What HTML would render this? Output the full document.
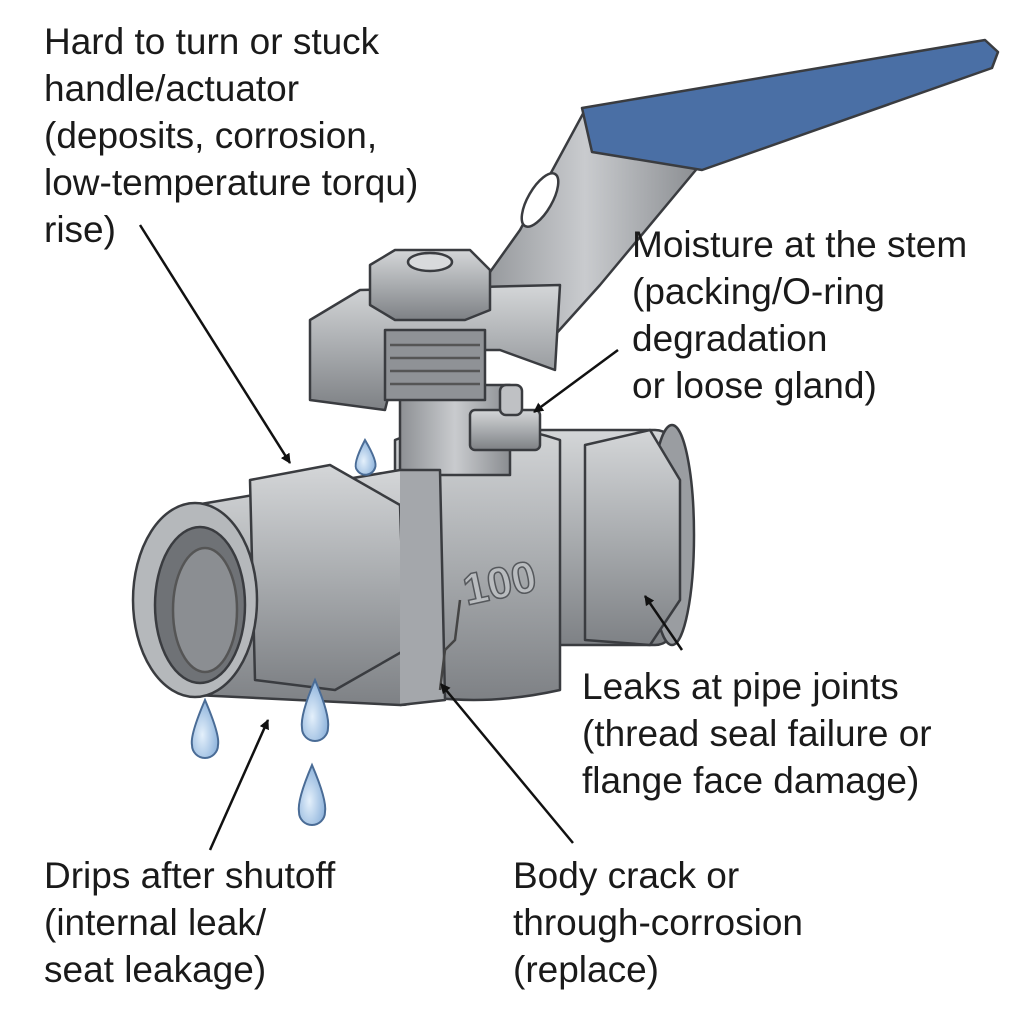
<!DOCTYPE html>
<html><head><meta charset="utf-8"><style>
html,body{margin:0;padding:0;background:#fff;width:1024px;height:1024px;overflow:hidden}
.t{position:absolute;font-family:"Liberation Sans","DejaVu Sans",sans-serif;font-size:37px;line-height:47px;color:#1a1a1a;white-space:nowrap}
</style></head><body>
<svg width="1024" height="1024" style="position:absolute;left:0;top:0">
<defs>
<linearGradient id="m" x1="0" y1="0" x2="0" y2="1"><stop offset="0" stop-color="#d4d6d8"/><stop offset=".5" stop-color="#a9acaf"/><stop offset="1" stop-color="#7e8185"/></linearGradient>
<linearGradient id="mh" x1="0" y1="0" x2="1" y2="0"><stop offset="0" stop-color="#8d9094"/><stop offset=".5" stop-color="#c9cbce"/><stop offset="1" stop-color="#8a8d91"/></linearGradient>
<marker id="a" markerWidth="10" markerHeight="10" refX="9" refY="5" orient="auto" markerUnits="userSpaceOnUse" viewBox="0 0 10 10"><path d="M0,0L10,5L0,10z" fill="#111"/></marker>
<radialGradient id="d" cx=".4" cy=".6" r=".6"><stop offset="0" stop-color="#e4f0fb"/><stop offset="1" stop-color="#8fb4dc"/></radialGradient>
</defs>
<g stroke="#3a3c40" stroke-width="2.5" stroke-linejoin="round">
<!-- lever -->
<polygon points="585,110 700,165 600,285 555,335 470,300 520,230" fill="url(#mh)"/>
<ellipse cx="540" cy="200" rx="12" ry="30" transform="rotate(30 540 200)" fill="#fff"/>
<polygon points="582,108 985,40 998,52 992,68 702,170 592,152" fill="#4a6fa5"/>
<!-- right end -->
<rect x="520" y="430" width="155" height="215" rx="20" fill="url(#m)"/>
<ellipse cx="672" cy="535" rx="22" ry="110" fill="#9a9da1"/>
<polygon points="585,445 650,430 680,480 680,600 650,645 585,640" fill="url(#m)"/>
<!-- body -->
<path d="M395,440 Q470,410 560,440 L560,690 Q470,710 395,690 Z" fill="url(#m)"/>
<rect x="400" y="385" width="110" height="90" fill="url(#mh)"/>
<!-- yoke -->
<polygon points="310,320 360,290 560,285 555,370 500,350 400,350 385,410 310,400" fill="url(#m)"/>
<rect x="385" y="330" width="100" height="70" fill="#8f9296"/>
<g fill="none" stroke="#555"><path d="M390,345h90M390,358h90M390,371h90M390,384h90"/></g>
<polygon points="370,265 395,250 470,250 490,270 490,310 465,320 395,320 370,305" fill="url(#m)"/>
<ellipse cx="430" cy="262" rx="22" ry="9" fill="#d8dadc"/>
<rect x="470" y="410" width="70" height="40" rx="5" fill="url(#m)"/>
<rect x="500" y="385" width="22" height="30" rx="6" fill="#bfc1c4"/>
<!-- left end -->
<path d="M195,505 L400,470 Q420,470 425,500 L425,690 Q420,705 400,705 L195,695 Z" fill="url(#m)"/>
<polygon points="250,480 330,465 400,505 405,650 335,690 255,680" fill="url(#m)"/>
<path d="M400,470 L440,470 L445,700 L400,705" fill="#a4a7ab"/>
<ellipse cx="195" cy="600" rx="62" ry="97" fill="#b5b8bb"/>
<ellipse cx="200" cy="605" rx="45" ry="78" fill="#6f7276"/>
<ellipse cx="205" cy="610" rx="32" ry="62" fill="#8b8e92" stroke="#555"/>
<path d="M460,600 L455,640 L445,650 L440,690" fill="none" stroke="#444"/>
</g>
<text x="463" y="600" font-family="Liberation Sans,sans-serif" font-size="44" font-weight="bold" fill="#b9bcbf" stroke="#55585c" stroke-width="1.5" transform="rotate(-12 490 585)">100</text>
<!-- drops -->
<g stroke="#4a6c96" stroke-width="2" fill="url(#d)">
<path d="M365,440 Q352,465 357,470 A10,10 0 0 0 375,468 Q378,462 365,440Z"/>
<path d="M205,700 Q190,735 192,745 A13,13 0 0 0 218,745 Q220,735 205,700Z"/>
<path d="M315,680 Q300,715 302,728 A13,13 0 0 0 328,728 Q330,715 315,680Z"/>
<path d="M312,765 Q297,800 299,812 A13,13 0 0 0 325,812 Q327,800 312,765Z"/>
</g>
<!-- arrows -->
<g stroke="#111" stroke-width="2.5" marker-end="url(#a)">
<line x1="140" y1="225" x2="290" y2="463"/>
<line x1="618" y1="350" x2="534" y2="412"/>
<line x1="682" y1="650" x2="645" y2="596"/>
<line x1="210" y1="850" x2="268" y2="720"/>
<line x1="573" y1="843" x2="441" y2="684"/>
</g>
</svg>
<div class="t" style="left:44px;top:18px">Hard to turn or stuck<br>handle/actuator<br>(deposits, corrosion,<br>low-temperature torqu)<br>rise)</div>
<div class="t" style="left:632px;top:221px">Moisture at the stem<br>(packing/O-ring<br>degradation<br>or loose gland)</div>
<div class="t" style="left:582px;top:663px">Leaks at pipe joints<br>(thread seal failure or<br>flange face damage)</div>
<div class="t" style="left:44px;top:852px">Drips after shutoff<br>(internal leak/<br>seat leakage)</div>
<div class="t" style="left:513px;top:852px">Body crack or<br>through-corrosion<br>(replace)</div>
</body></html>
